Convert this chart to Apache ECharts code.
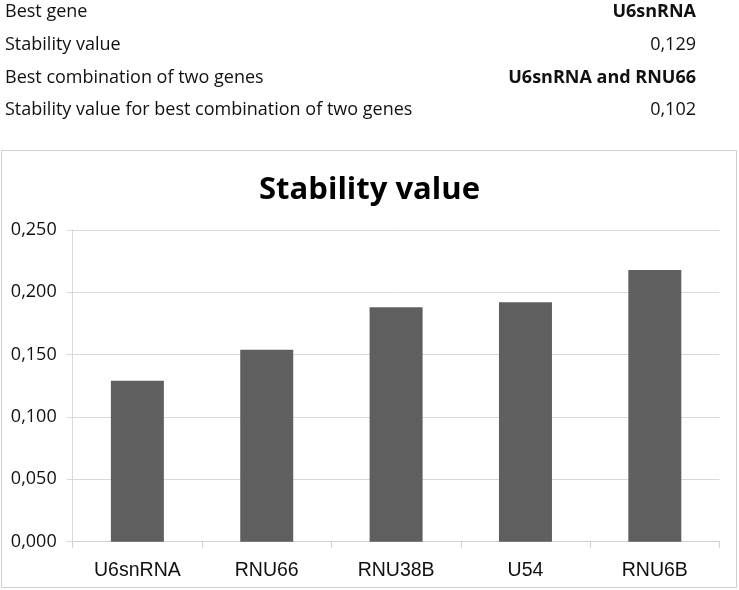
<!DOCTYPE html>
<html>
<head>
<meta charset="utf-8">
<script src="https://cdn.jsdelivr.net/npm/echarts@6/dist/echarts.min.js"></script>
<style>
html,body{margin:0;padding:0;background:#fff;}
#chart{width:739px;height:590px;}
</style>
</head>
<body>
<div id="chart"></div>
<script>
const categories = ['U6snRNA', 'RNU66', 'RNU38B', 'U54', 'RNU6B'];
const stabilityValues = [0.129, 0.154, 0.188, 0.192, 0.218];
const summaryLabels = ['Best gene', 'Stability value', 'Best combination of two genes', 'Stability value for best combination of two genes'];
const summaryValues = ['U6snRNA', '0,129', 'U6snRNA and RNU66', '0,102'];
const summaryBold = [true, false, true, false];
const chartTitle = 'Stability value';

const rowY = [12, 45, 78, 110];
const graphics = [];
summaryLabels.forEach((t, i) => {
  graphics.push({
    type: 'text', x: 5, y: rowY[i],
    style: { text: t, font: '18px "Open Sans"', fill: '#111', textAlign: 'left', textVerticalAlign: 'middle' }
  });
  graphics.push({
    type: 'text', x: 696, y: rowY[i],
    style: { text: summaryValues[i], font: (summaryBold[i] ? 'bold ' : '') + '18px "Open Sans"', fill: '#111', textAlign: 'right', textVerticalAlign: 'middle' }
  });
});
graphics.push({
  type: 'rect', z: -1,
  shape: { x: 1.5, y: 150.5, width: 735, height: 437 },
  style: { fill: 'none', stroke: '#cfcfcf', lineWidth: 1 }
});

const chart = echarts.init(document.getElementById('chart'), null, { renderer: 'canvas' });
chart.setOption({
  animation: false,
  backgroundColor: '#fff',
  title: {
    text: chartTitle, left: 'center', top: 170,
    textStyle: { fontFamily: 'Open Sans', fontWeight: 'bold', fontSize: 31, color: '#000' }
  },
  graphic: graphics,
  grid: { left: 72.7, right: 19.5, top: 230, bottom: 48.3, containLabel: false },
  xAxis: {
    type: 'category', data: categories,
    axisLine: { show: true, lineStyle: { color: '#cfcfcf', width: 1 } },
    axisTick: { show: true, length: 6, lineStyle: { color: '#cfcfcf' } },
    axisLabel: { margin: 19, fontFamily: 'Liberation Sans', fontSize: 19.5, color: '#111' }
  },
  yAxis: {
    type: 'value', min: 0, max: 0.25, interval: 0.05,
    axisLine: { show: true, lineStyle: { color: '#d9d9d9', width: 1 } },
    axisTick: { show: true, length: 6, lineStyle: { color: '#d9d9d9' } },
    splitLine: { show: true, lineStyle: { color: '#d9d9d9', width: 1 } },
    axisLabel: {
      margin: 16, fontFamily: 'Open Sans', fontSize: 18, color: '#111',
      formatter: v => v.toFixed(3).replace('.', ',')
    }
  },
  series: [{
    type: 'bar', data: stabilityValues, barWidth: 53,
    itemStyle: { color: '#5f5f5f' }
  }]
});
</script>
</body>
</html>
